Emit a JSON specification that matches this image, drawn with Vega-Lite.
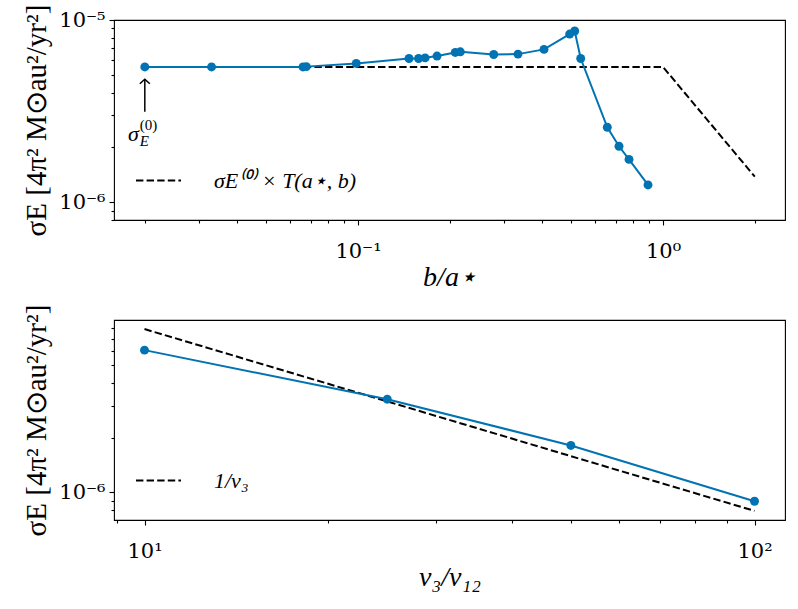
{
  "$schema": "https://vega.github.io/schema/vega-lite/v6.json",
  "padding": {"left": 22, "top": 3, "right": 0, "bottom": 0},
  "background": "white",
  "datasets": {
    "top_pts": [
      {"b": 0.02, "sigma": 5.53e-6},
      {"b": 0.0331, "sigma": 5.53e-6},
      {"b": 0.066, "sigma": 5.53e-6},
      {"b": 0.0677, "sigma": 5.55e-6},
      {"b": 0.0987, "sigma": 5.78e-6},
      {"b": 0.147, "sigma": 6.15e-6},
      {"b": 0.158, "sigma": 6.15e-6},
      {"b": 0.166, "sigma": 6.2e-6},
      {"b": 0.1816, "sigma": 6.34e-6},
      {"b": 0.2084, "sigma": 6.64e-6},
      {"b": 0.2165, "sigma": 6.69e-6},
      {"b": 0.2786, "sigma": 6.47e-6},
      {"b": 0.3346, "sigma": 6.5e-6},
      {"b": 0.4073, "sigma": 6.9e-6},
      {"b": 0.4943, "sigma": 8.37e-6},
      {"b": 0.5134, "sigma": 8.7e-6},
      {"b": 0.5373, "sigma": 6.15e-6},
      {"b": 0.6567, "sigma": 2.58e-6},
      {"b": 0.7174, "sigma": 2.03e-6},
      {"b": 0.7736, "sigma": 1.72e-6},
      {"b": 0.893, "sigma": 1.246e-6}
    ],
    "top_model": [
      {"b": 0.02, "sigma": 5.53e-6, "series": "σE⁽⁰⁾ × T(a⋆, b)"},
      {"b": 1, "sigma": 5.53e-6, "series": "σE⁽⁰⁾ × T(a⋆, b)"},
      {"b": 2, "sigma": 1.3825e-6, "series": "σE⁽⁰⁾ × T(a⋆, b)"}
    ],
    "top_arrow": [{"b": 0.02, "sigma_start": 3.14e-6, "sigma_end": 4.73e-6}],
    "top_label": [{"b": 0.02, "sigma": 2.37e-6}],
    "bot_pts": [
      {"v": 10, "sigma": 6.05e-6},
      {"v": 25, "sigma": 3.25e-6},
      {"v": 50, "sigma": 1.81e-6},
      {"v": 100, "sigma": 8.93e-7}
    ],
    "bot_model": [
      {"v": 10, "sigma": 7.9e-6, "series": "1/v₃"},
      {"v": 25, "sigma": 3.16e-6, "series": "1/v₃"},
      {"v": 50, "sigma": 1.58e-6, "series": "1/v₃"},
      {"v": 100, "sigma": 7.9e-7, "series": "1/v₃"}
    ]
  },
  "vconcat": [
    {
      "width": 671,
      "height": 200,
      "encoding": {
        "x": {
          "field": "b", "type": "quantitative",
          "scale": {"type": "log", "domain": [0.015849, 2.5119], "nice": false, "zero": false},
          "axis": {
            "title": "b/a⋆", "titleFontStyle": "italic", "titlePadding": 2, "labelPadding": 15,
            "values": [0.02, 0.03, 0.04, 0.05, 0.06, 0.07, 0.08, 0.09, 0.1, 0.2, 0.3, 0.4, 0.5, 0.6, 0.7, 0.8, 0.9, 1, 2],
            "labelExpr": "datum.value == 0.1 ? '10⁻¹' : datum.value == 1 ? '10⁰' : ''",
            "tickSize": {"condition": {"test": "datum.value == 0.1 || datum.value == 1", "value": 5}, "value": 3}
          }
        },
        "y": {
          "field": "sigma", "type": "quantitative",
          "scale": {"type": "log", "domain": [8e-7, 1e-5], "nice": false, "zero": false},
          "axis": {
            "title": "σE [4π² M⊙au²/yr²]", "titlePadding": 7, "titleFontSize": 29,
            "values": [8e-7, 9e-7, 1e-6, 2e-6, 3e-6, 4e-6, 5e-6, 6e-6, 7e-6, 8e-6, 9e-6, 1e-5],
            "labelExpr": "datum.value == 1e-6 ? '10⁻⁶' : datum.value == 1e-5 ? '10⁻⁵' : ''",
            "tickSize": {"condition": {"test": "datum.value == 1e-6 || datum.value == 1e-5", "value": 5}, "value": 3}
          }
        }
      },
      "layer": [
        {
          "data": {"name": "top_model"},
          "mark": {"type": "line", "color": "black", "strokeWidth": 2},
          "encoding": {
            "strokeDash": {
              "field": "series", "type": "nominal",
              "scale": {"range": [[7.4, 3.2]]},
              "legend": {"title": null, "orient": "none", "legendX": 21, "legendY": 137}
            }
          }
        },
        {
          "data": {"name": "top_pts"},
          "mark": {"type": "line", "color": "#0173b2", "strokeWidth": 2, "point": {"filled": true, "size": 80, "opacity": 1, "color": "#0173b2"}}
        },
        {
          "data": {"name": "top_arrow"},
          "mark": {"type": "rule", "color": "black", "strokeWidth": 1.5},
          "encoding": {"y": {"field": "sigma_start", "type": "quantitative"}, "y2": {"field": "sigma_end"}}
        },
        {
          "data": {"name": "top_arrow"},
          "mark": {"type": "point", "shape": "M-1,0.9L0,0L1,0.9", "filled": false, "color": "black", "strokeWidth": 1.5, "size": 100, "opacity": 1},
          "encoding": {"y": {"field": "sigma_end", "type": "quantitative"}}
        },
        {
          "data": {"name": "top_label"},
          "mark": {"type": "text", "text": "σ", "fontSize": 22, "fontStyle": "italic", "align": "right", "baseline": "middle", "dx": -6, "color": "black"}
        },
        {
          "data": {"name": "top_label"},
          "mark": {"type": "text", "text": "(0)", "fontSize": 15, "align": "left", "baseline": "middle", "dx": -5, "dy": -9, "color": "black"}
        },
        {
          "data": {"name": "top_label"},
          "mark": {"type": "text", "text": "E", "fontSize": 15, "fontStyle": "italic", "align": "left", "baseline": "middle", "dx": -5, "dy": 7, "color": "black"}
        }
      ]
    },
    {
      "width": 671,
      "height": 200,
      "encoding": {
        "x": {
          "field": "v", "type": "quantitative",
          "scale": {"type": "log", "domain": [8.9125, 112.2], "nice": false, "zero": false},
          "axis": {
            "title": "v₃/v₁₂", "titleFontStyle": "italic", "titlePadding": 2, "labelPadding": 15,
            "values": [9, 10, 20, 30, 40, 50, 60, 70, 80, 90, 100],
            "labelExpr": "datum.value == 10 ? '10¹' : datum.value == 100 ? '10²' : ''",
            "tickSize": {"condition": {"test": "datum.value == 10 || datum.value == 100", "value": 5}, "value": 3}
          }
        },
        "y": {
          "field": "sigma", "type": "quantitative",
          "scale": {"type": "log", "domain": [7.04e-7, 8.86e-6], "nice": false, "zero": false},
          "axis": {
            "title": "σE [4π² M⊙au²/yr²]", "titlePadding": 7, "titleFontSize": 29,
            "values": [8e-7, 9e-7, 1e-6, 2e-6, 3e-6, 4e-6, 5e-6, 6e-6, 7e-6, 8e-6],
            "labelExpr": "datum.value == 1e-6 ? '10⁻⁶' : ''",
            "tickSize": {"condition": {"test": "datum.value == 1e-6", "value": 5}, "value": 3}
          }
        }
      },
      "layer": [
        {
          "data": {"name": "bot_model"},
          "mark": {"type": "line", "color": "black", "strokeWidth": 2},
          "encoding": {
            "strokeDash": {
              "field": "series", "type": "nominal",
              "scale": {"range": [[7.4, 3.2]]},
              "legend": {"title": null, "orient": "none", "legendX": 21, "legendY": 137}
            }
          }
        },
        {
          "data": {"name": "bot_pts"},
          "mark": {"type": "line", "color": "#0173b2", "strokeWidth": 2, "point": {"filled": true, "size": 80, "opacity": 1, "color": "#0173b2"}}
        }
      ],
      "resolve": {"scale": {"strokeDash": "independent"}}
    }
  ],
  "spacing": 100,
  "bounds": "flush",
  "resolve": {"scale": {"strokeDash": "independent"}, "legend": {"strokeDash": "independent"}},
  "config": {
    "font": "Liberation Serif",
    "view": {"stroke": "#000", "strokeWidth": 1.1},
    "axis": {
      "grid": false, "domain": false, "tickColor": "#000", "tickWidth": 1.1,
      "labelFont": "DejaVu Serif", "labelFontSize": 21, "labelColor": "#000", "labelPadding": 4,
      "labelFlush": false, "labelOverlap": false, "labelBound": false,
      "titleFontSize": 28, "titleFontWeight": "normal", "titleColor": "#000"
    },
    "legend": {
      "symbolType": "stroke", "symbolSize": 2025, "symbolStrokeWidth": 2,
      "symbolStrokeColor": "black", "symbolDash": [7.4, 3.2],
      "labelFontSize": 22, "labelFontStyle": "italic", "labelColor": "#000", "labelOffset": 32, "labelLimit": 400
    }
  }
}
